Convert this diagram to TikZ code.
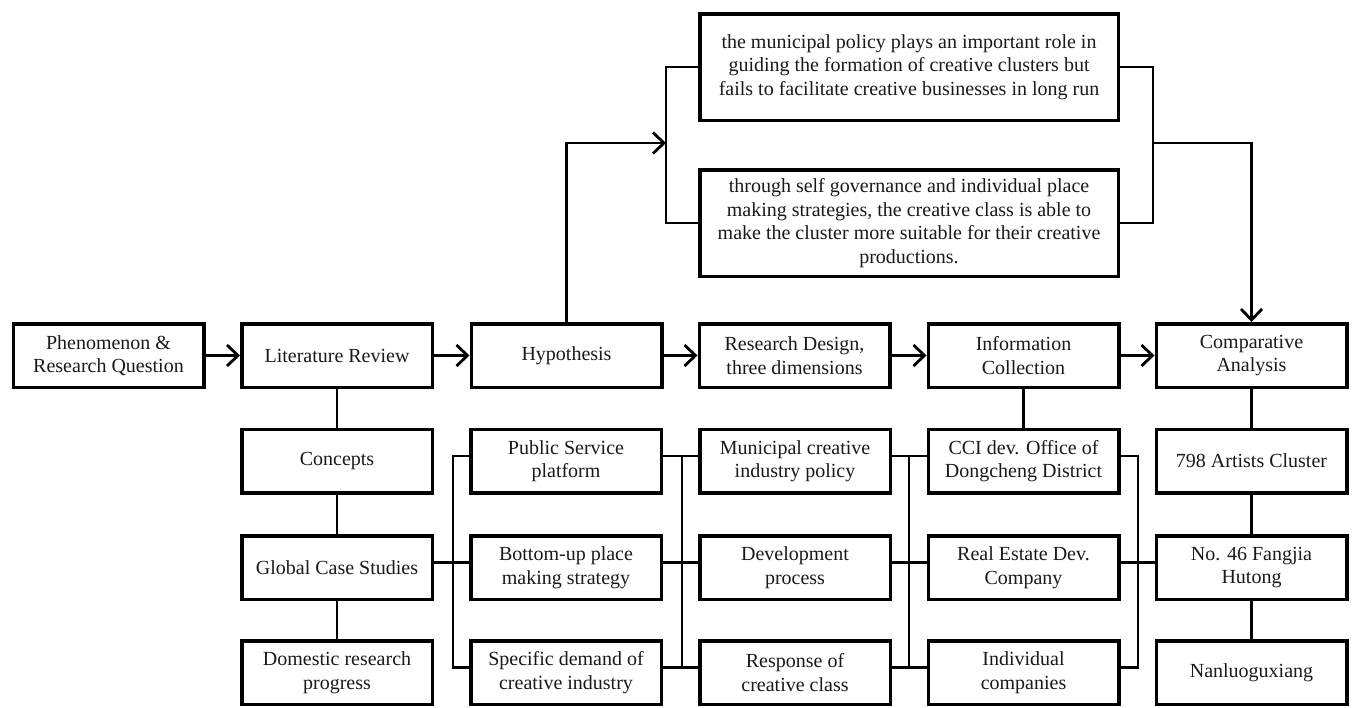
\documentclass[tikz,border=0pt]{standalone}
\usepackage{fontspec}
\setmainfont{Liberation Serif}
\usetikzlibrary{arrows.meta,calc}
\begin{document}
\begin{tikzpicture}[x=1pt,y=-1pt,
  box/.style={draw=black, line width=3.5pt, minimum width=190.5pt, minimum height=63.5pt,
              align=center, inner sep=0pt, text=black!90,
              font=\fontsize{20}{23.5}\selectfont},
  bigbox/.style={box, minimum width=418.5pt, minimum height=106.5pt},
  conn/.style={draw=black, line width=2.6pt},
  arr/.style={conn, -{Straight Barb[length=11pt, width=21pt, line width=2.8pt]}}]
\useasboundingbox (0,0) rectangle (1356,707);

% main row
\node[box] (phe) at (108.5,355.5) {Phenomenon \&\\Research Question};
\node[box] (lit) at (337,355.5) {Literature Review};
\node[box] (hyp) at (566.5,355.5) {Hypothesis};
\node[box] (rd)  at (794.5,355.5) {Research Design,\\three dimensions};
\node[box] (ic)  at (1023.5,355.5) {Information\\Collection};
\node[box] (ca)  at (1251.5,355.5) {Comparative\\Analysis};

% top hypotheses
\node[bigbox] (ha) at (909,67) {the municipal policy plays an important role in\\guiding the formation of creative clusters but\\fails to facilitate creative businesses in long run};
\node[bigbox] (hb) at (909,223) {through self governance and individual place\\making strategies, the creative class is able to\\make the cluster more suitable for their creative\\productions.};

% column 1
\node[box] (con) at (337,461) {Concepts};
\node[box] (gcs) at (337,567.5) {Global Case Studies};
\node[box] (drp) at (337,672.5) {Domestic research\\progress};

% column 2
\node[box] (psp) at (566,461) {Public Service\\platform};
\node[box] (bum) at (566,567.5) {Bottom-up place\\making strategy};
\node[box] (sdc) at (566,672.5) {Specific demand of\\creative industry};

% column 3
\node[box] (mcp) at (795,461) {Municipal creative\\industry policy};
\node[box] (dp)  at (795,567.5) {Development\\process};
\node[box] (rcc) at (795,672.5) {Response of\\creative class};

% column 4
\node[box] (cci) at (1023.5,461) {CCI dev. Office of\\Dongcheng District};
\node[box] (red) at (1023.5,567.5) {Real Estate Dev.\\Company};
\node[box] (ind) at (1023.5,672.5) {Individual\\companies};

% column 6
\node[box] (c798) at (1251.5,461) {798 Artists Cluster};
\node[box] (n46)  at (1251.5,567.5) {No. 46 Fangjia\\Hutong};
\node[box] (nan)  at (1251.5,672.5) {Nanluoguxiang};

% bus coordinates
\coordinate (lb) at (666,143);
\coordinate (rb) at (1153,143);
\coordinate (b1) at (453,562);
\coordinate (b2) at (682,562);
\coordinate (b3) at (909,562);
\coordinate (b4) at (1138,562);

% main row arrows
\draw[arr] (phe.east) -- (lit.west);
\draw[arr] (lit.east) -- (hyp.west);
\draw[arr] (hyp.east) -- (rd.west);
\draw[arr] (rd.east) -- (ic.west);
\draw[arr] (ic.east) -- (ca.west);

% hypothesis brackets
\draw[arr] (hyp.north) |- (lb);
\draw[conn] (ha.west) -| (lb) |- (hb.west);
\draw[conn] (ha.east) -| (rb) |- (hb.east);
\draw[arr] (rb) -| (ca.north);

% vertical links
\draw[conn] (lit.south) -- (con.north);
\draw[conn] (con.south) -- (gcs.north);
\draw[conn] (gcs.south) -- (drp.north);
\draw[conn] (ic.south) -- (cci.north);
\draw[conn] (ca.south) -- (c798.north);
\draw[conn] (c798.south) -- (n46.north);
\draw[conn] (n46.south) -- (nan.north);

% column 1 -> column 2
\draw[conn] ($(gcs.east)+(0,-5)$) -- ($(bum.west)+(0,-5)$);
\draw[conn] ($(psp.west)+(0,-5)$) -| (b1) |- ($(sdc.west)+(0,-5)$);

% column 2 -> column 3
\draw[conn] ($(psp.east)+(0,-5)$) -| (b2) |- ($(sdc.east)+(0,-5)$);
\draw[conn] ($(mcp.west)+(0,-5)$) -| (b2) |- ($(rcc.west)+(0,-5)$);
\draw[conn] ($(bum.east)+(0,-5)$) -- ($(dp.west)+(0,-5)$);

% column 3 -> column 4
\draw[conn] ($(mcp.east)+(0,-5)$) -| (b3) |- ($(rcc.east)+(0,-5)$);
\draw[conn] ($(cci.west)+(0,-5)$) -| (b3) |- ($(ind.west)+(0,-5)$);
\draw[conn] ($(dp.east)+(0,-5)$) -- ($(red.west)+(0,-5)$);

% column 4 -> column 6
\draw[conn] ($(cci.east)+(0,-5)$) -| (b4) |- ($(ind.east)+(0,-5)$);
\draw[conn] ($(red.east)+(0,-5)$) -- ($(n46.west)+(0,-5)$);
\end{tikzpicture}
\end{document}
